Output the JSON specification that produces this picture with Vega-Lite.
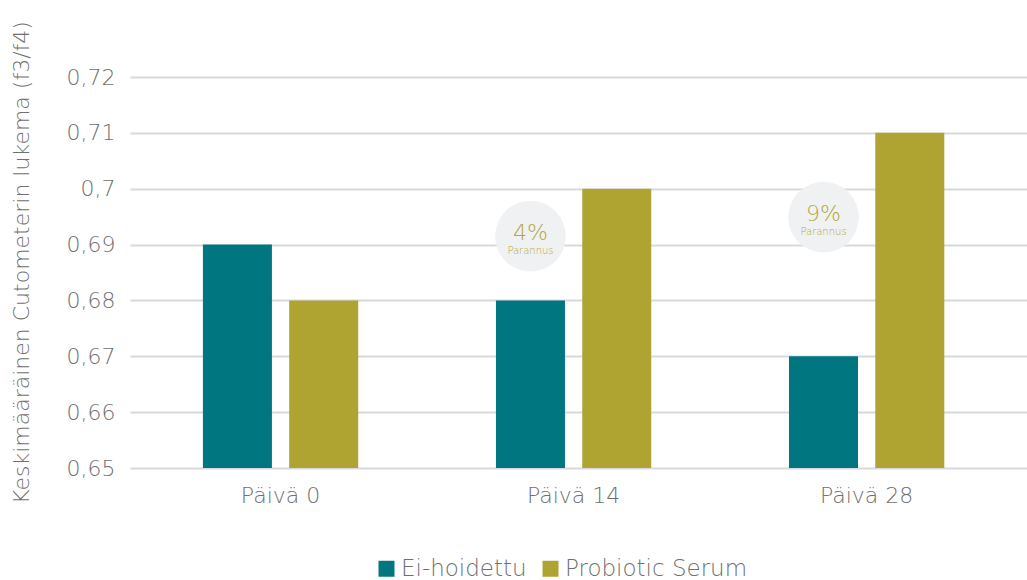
{
  "$schema": "https://vega.github.io/schema/vega-lite/v6.json",
  "width": 897,
  "height": 391,
  "autosize": "none",
  "padding": {"left": 130, "top": 77, "right": 0, "bottom": 112},
  "background": "white",
  "config": {
    "view": {"stroke": null},
    "font": "DejaVu Sans",
    "axis": {"labelColor": "#707070", "titleColor": "#707070", "labelFont": "DejaVu Sans", "titleFont": "DejaVu Sans"},
    "legend": {"labelColor": "#707070", "labelFont": "DejaVu Sans"}
  },
  "datasets": {
    "bars": [
      {"day": "Päivä 0", "group": "Ei-hoidettu", "value": 0.69},
      {"day": "Päivä 0", "group": "Probiotic Serum", "value": 0.68},
      {"day": "Päivä 14", "group": "Ei-hoidettu", "value": 0.68},
      {"day": "Päivä 14", "group": "Probiotic Serum", "value": 0.70},
      {"day": "Päivä 28", "group": "Ei-hoidettu", "value": 0.67},
      {"day": "Päivä 28", "group": "Probiotic Serum", "value": 0.71}
    ],
    "notes": [
      {"day": "Päivä 14", "group": "Ei-hoidettu", "pos": 0.6915, "pct": "4%", "sub": "Parannus"},
      {"day": "Päivä 28", "group": "Ei-hoidettu", "pos": 0.6949, "pct": "9%", "sub": "Parannus"}
    ]
  },
  "encoding": {
    "x": {
      "field": "day", "type": "nominal", "sort": ["Päivä 0", "Päivä 14", "Päivä 28"],
      "scale": {"paddingInner": 0.47, "paddingOuter": 0.2655, "align": 0.4685},
      "axis": {"title": null, "labelAngle": 0, "ticks": false, "domain": false, "labelPadding": 17, "labelFontSize": 22, "labelFontWeight": 200}
    },
    "xOffset": {"field": "group", "type": "nominal", "sort": ["Ei-hoidettu", "Probiotic Serum"], "scale": {"paddingInner": 0.2, "paddingOuter": 0}}
  },
  "layer": [
    {
      "data": {"name": "bars"},
      "mark": {"type": "bar", "clip": true},
      "encoding": {
        "y": {
          "field": "value", "type": "quantitative",
          "scale": {"domain": [0.65, 0.72], "zero": false, "nice": false},
          "axis": {
            "title": "Keskimääräinen Cutometerin lukema (f3/f4)",
            "titleFontSize": 22, "titleFontWeight": 200,
            "titleX": -102, "titleY": 185, "titleAngle": -90, "titleBaseline": "alphabetic", "titleAlign": "center", "titleLimit": 0,
            "values": [0.65, 0.66, 0.67, 0.68, 0.69, 0.70, 0.71, 0.72],
            "labelExpr": "replace(format(datum.value, '.2~f'), '.', ',')",
            "labelFontSize": 22, "labelFontWeight": 200, "labelPadding": 15,
            "ticks": false, "domain": false,
            "grid": true, "gridColor": "#d7d9de", "gridWidth": 2
          }
        },
        "color": {
          "field": "group", "type": "nominal",
          "scale": {"domain": ["Ei-hoidettu", "Probiotic Serum"], "range": ["#007681", "#afa432"]},
          "legend": {
            "title": null, "orient": "none", "direction": "horizontal",
            "legendX": 245, "legendY": 480,
            "symbolType": "square", "symbolSize": 256, "symbolStrokeWidth": 0, "symbolOpacity": 1,
            "labelFontSize": 23, "labelFontWeight": 200, "labelOffset": 3, "columnPadding": 12, "labelLimit": 0
          }
        }
      }
    },
    {
      "data": {"name": "notes"},
      "mark": {"type": "point", "shape": "circle", "filled": true, "size": 5000, "color": "#f0f1f3", "opacity": 1},
      "encoding": {"y": {"field": "pos", "type": "quantitative"}}
    },
    {
      "data": {"name": "notes"},
      "mark": {"type": "text", "fontSize": 22, "fontWeight": 200, "color": "#b3a83e", "dy": -3},
      "encoding": {"y": {"field": "pos", "type": "quantitative"}, "text": {"field": "pct"}}
    },
    {
      "data": {"name": "notes"},
      "mark": {"type": "text", "fontSize": 10, "fontWeight": 200, "color": "#b3a83e", "dy": 15},
      "encoding": {"y": {"field": "pos", "type": "quantitative"}, "text": {"field": "sub"}}
    }
  ]
}
